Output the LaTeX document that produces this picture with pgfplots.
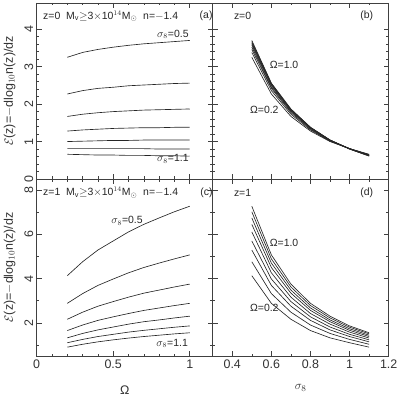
\documentclass[border=0pt]{standalone}
\usepackage{fontspec}
\setmainfont{Liberation Sans}
\usepackage{pgfplots}
\usepackage{pgfplotstable}
\pgfplotsset{compat=1.18}

% z=0, E vs Omega, one column per sigma8
\pgfplotstableread{
Om  s05  s06  s07  s08  s09  s10  s11
0.2 3.25 2.27 1.67 1.28 1.00 0.81 0.66
0.3 3.38 2.36 1.73 1.31 1.01 0.81 0.65
0.4 3.46 2.42 1.77 1.33 1.02 0.81 0.64
0.5 3.52 2.45 1.80 1.35 1.03 0.81 0.64
0.6 3.57 2.49 1.82 1.36 1.03 0.81 0.63
0.7 3.61 2.51 1.84 1.37 1.04 0.81 0.63
0.8 3.64 2.53 1.85 1.37 1.04 0.80 0.62
0.9 3.67 2.55 1.86 1.38 1.04 0.80 0.62
1.0 3.70 2.56 1.87 1.38 1.04 0.80 0.61
}\tabA
% z=0, E vs sigma8, one column per Omega
\pgfplotstableread{
s8  o02  o03  o04  o05  o06  o07  o08  o09  o10
0.5 3.25 3.38 3.46 3.52 3.57 3.61 3.64 3.67 3.70
0.6 2.27 2.36 2.42 2.45 2.49 2.51 2.53 2.55 2.56
0.7 1.67 1.73 1.77 1.80 1.82 1.84 1.85 1.86 1.87
0.8 1.28 1.31 1.33 1.35 1.36 1.37 1.37 1.38 1.38
0.9 1.00 1.01 1.02 1.03 1.03 1.04 1.04 1.04 1.04
1.0 0.81 0.81 0.81 0.81 0.81 0.81 0.80 0.80 0.80
1.1 0.66 0.65 0.64 0.64 0.63 0.63 0.62 0.62 0.61
}\tabB
% z=1, E vs Omega
\pgfplotstableread{
Om  s05  s06  s07  s08  s09  s10  s11
0.2 4.13 2.88 2.16 1.65 1.32 1.10 0.90
0.3 4.76 3.32 2.48 1.90 1.52 1.25 1.03
0.4 5.29 3.69 2.75 2.11 1.68 1.38 1.14
0.5 5.70 3.98 2.96 2.27 1.81 1.48 1.23
0.6 6.11 4.26 3.16 2.42 1.94 1.58 1.31
0.7 6.45 4.50 3.34 2.56 2.05 1.66 1.38
0.8 6.74 4.70 3.48 2.67 2.13 1.73 1.44
0.9 7.02 4.89 3.62 2.78 2.22 1.80 1.50
1.0 7.27 5.07 3.75 2.88 2.30 1.86 1.55
}\tabC
% z=1, E vs sigma8
\pgfplotstableread{
s8  o02  o03  o04  o05  o06  o07  o08  o09  o10
0.5 4.13 4.76 5.29 5.70 6.11 6.45 6.74 7.02 7.27
0.6 2.88 3.32 3.69 3.98 4.26 4.50 4.70 4.89 5.07
0.7 2.16 2.48 2.75 2.96 3.16 3.34 3.48 3.62 3.75
0.8 1.65 1.90 2.11 2.27 2.42 2.56 2.67 2.78 2.88
0.9 1.32 1.52 1.68 1.81 1.94 2.05 2.13 2.22 2.30
1.0 1.10 1.25 1.38 1.48 1.58 1.66 1.73 1.80 1.86
1.1 0.90 1.03 1.14 1.23 1.31 1.38 1.44 1.50 1.55
}\tabD

\tikzset{ann/.style={font=\fontsize{10.5}{12}\selectfont, black!85, inner sep=0pt}}
\pgfplotsset{
  panel/.style={
    scale only axis, width=176bp,
    tick align=inside, xtick pos=both, ytick pos=both,
    major tick length=5bp, minor tick length=2.5bp,
    axis line style={black!75, line width=0.6pt},
    every tick/.style={black!75, line width=0.5pt},
    tick label style={font=\fontsize{12.5}{14}\selectfont, black!80},
    label style={font=\fontsize{12.5}{14}\selectfont, black!80},
    /pgf/number format/assume math mode=true,
    clip=false,
    yticklabel style={rotate=90, anchor=south},
  },
  leftx/.style={xmin=0, xmax=1.15, xtick={0,0.5,1}, minor x tick num=4},
  rightx/.style={xmin=0.3, xmax=1.2, xtick={0.4,0.6,0.8,1,1.2}, minor x tick num=1},
  topy/.style={height=176bp, ymin=0, ymax=4.7, ytick={0,1,2,3,4}, minor y tick num=4},
  boty/.style={height=177bp, ymin=0.5, ymax=8.5, ytick={2,4,6,8}, minor ytick={1,3,5,7}},
  curve/.style={black!85, line width=0.65pt, no marks},
}

\begin{document}
\begin{tikzpicture}
% (c) bottom-left
\begin{axis}[panel, leftx, boty, at={(0bp,0bp)}, anchor=south west,
  xlabel={Ω}, xlabel style={yshift=-11bp},
  ylabel={$\mathcal{E}$(z)=$-$dlog$_{10}$n(z)/dz}, ylabel style={yshift=2bp}]
  \pgfplotsinvokeforeach{s05,s06,s07,s08,s09,s10,s11}{\addplot[curve] table[x=Om,y=#1]{\tabC};}
  \node[ann, anchor=west] at (rel axis cs:0.036,0.922) {z=1\ \ M$_\mathrm{v}$$\geq$3$\times$10$^{14}$M$_\odot$\ \ n=$-$1.4};
  \node[ann, anchor=east] at (rel axis cs:1.0,0.922) {(c)};
  \node[ann] at (axis cs:0.59,6.6) {$\sigma_8$=0.5};
  \node[ann] at (axis cs:0.885,1.07) {$\sigma_8$=1.1};
\end{axis}
% (d) bottom-right
\begin{axis}[panel, rightx, boty, at={(176bp,0bp)}, anchor=south west,
  yticklabels={}, xlabel={$\sigma_8$}, xlabel style={yshift=-9bp}]
  \pgfplotsinvokeforeach{o02,o03,o04,o05,o06,o07,o08,o09,o10}{\addplot[curve] table[x=s8,y=#1]{\tabD};}
  \node[ann, anchor=west] at (rel axis cs:0.12,0.922) {z=1};
  \node[ann] at (rel axis cs:0.875,0.922) {(d)};
  \node[ann] at (axis cs:0.665,5.59) {Ω=1.0};
  \node[ann] at (axis cs:0.564,2.67) {Ω=0.2};
\end{axis}
% (a) top-left
\begin{axis}[panel, leftx, topy, at={(0bp,177bp)}, anchor=south west,
  xticklabels={},
  ylabel={$\mathcal{E}$(z)=$-$dlog$_{10}$n(z)/dz}, ylabel style={yshift=2bp}]
  \pgfplotsinvokeforeach{s05,s06,s07,s08,s09,s10,s11}{\addplot[curve] table[x=Om,y=#1]{\tabA};}
  \node[ann, anchor=west] at (rel axis cs:0.036,0.926) {z=0\ \ M$_\mathrm{v}$$\geq$3$\times$10$^{14}$M$_\odot$\ \ n=$-$1.4};
  \node[ann, anchor=east] at (rel axis cs:1.0,0.926) {(a)};
  \node[ann] at (axis cs:0.89,3.86) {$\sigma_8$=0.5};
  \node[ann] at (axis cs:0.89,0.53) {$\sigma_8$=1.1};
\end{axis}
% (b) top-right
\begin{axis}[panel, rightx, topy, at={(176bp,177bp)}, anchor=south west,
  xticklabels={}, yticklabels={}]
  \pgfplotsinvokeforeach{o02,o03,o04,o05,o06,o07,o08,o09,o10}{\addplot[curve] table[x=s8,y=#1]{\tabB};}
  \node[ann, anchor=west] at (rel axis cs:0.12,0.926) {z=0};
  \node[ann] at (rel axis cs:0.875,0.926) {(b)};
  \node[ann] at (axis cs:0.665,3.06) {Ω=1.0};
  \node[ann] at (axis cs:0.564,1.85) {Ω=0.2};
\end{axis}
\pgfresetboundingbox
\useasboundingbox (-36.7bp,-42bp) rectangle (363.3bp,356bp);
\end{tikzpicture}
\end{document}
